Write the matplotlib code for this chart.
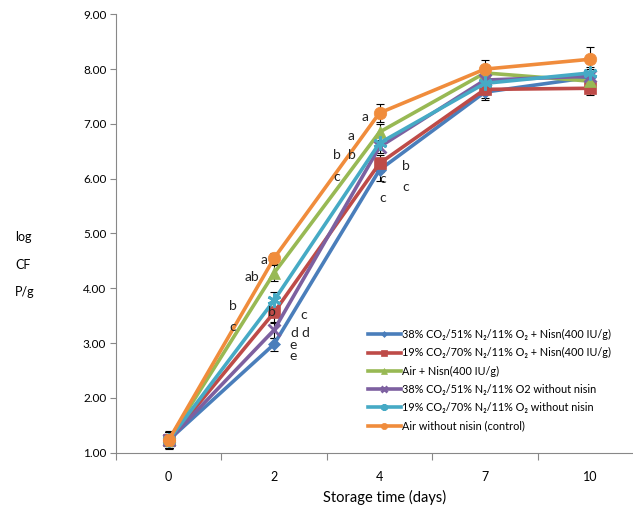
import matplotlib
matplotlib.use('Agg')
import matplotlib.pyplot as plt
import numpy as np

plt.rcParams['font.family'] = ['Lato', 'DejaVu Sans']

days = ['0', '2', '4', '7', '10']

series_names = [
    '38% CO\u2082/51% N\u2082/11% O\u2082 + Nisn(400 IU/g)',
    '19% CO\u2082/70% N\u2082/11% O\u2082 + Nisn(400 IU/g)',
    'Air + Nisn(400 IU/g)',
    '38% CO\u2082/51% N\u2082/11% O2 without nisin',
    '19% CO\u2082/70% N\u2082/11% O\u2082 without nisin',
    'Air without nisin (control)',
]

co2_38_nisin = [1.23, 2.98, 6.16, 7.58, 7.85]
co2_19_nisin = [1.23, 3.56, 6.28, 7.63, 7.65]
air_nisin = [1.23, 4.28, 6.85, 7.93, 7.78]
co2_38_ctrl = [1.23, 3.24, 6.58, 7.80, 7.87]
co2_19_ctrl = [1.23, 3.78, 6.65, 7.74, 7.93]
air_ctrl = [1.23, 4.55, 7.20, 8.00, 8.18]

err_co2_38_nisin = [0.15, 0.12, 0.20, 0.15, 0.15]
err_co2_19_nisin = [0.15, 0.20, 0.15, 0.15, 0.13]
err_air_nisin = [0.15, 0.15, 0.15, 0.12, 0.10]
err_co2_38_ctrl = [0.15, 0.15, 0.12, 0.10, 0.10]
err_co2_19_ctrl = [0.15, 0.15, 0.12, 0.12, 0.10]
err_air_ctrl = [0.17, 0.10, 0.16, 0.16, 0.22]

# significance letters (x in category units, y in log CFU)
letter_text = ['a', 'ab', 'b', 'c', 'b', 'c', 'd', 'd', 'e', 'e',
               'a', 'a', 'b', 'b', 'c', 'b', 'c', 'c', 'c']
letter_x = [0.90, 0.79, 0.61, 0.61, 0.98, 1.28, 1.19, 1.30, 1.18, 1.18,
            1.86, 1.73, 1.60, 1.74, 1.59, 2.25, 2.25, 2.03, 2.03]
letter_y = [4.51, 4.20, 3.68, 3.29, 3.57, 3.51, 3.19, 3.19, 2.97, 2.77,
            7.12, 6.78, 6.43, 6.43, 6.03, 6.23, 5.85, 5.99, 5.64]

values = [co2_38_nisin, co2_19_nisin, air_nisin, co2_38_ctrl, co2_19_ctrl, air_ctrl]
errors = [err_co2_38_nisin, err_co2_19_nisin, err_air_nisin,
          err_co2_38_ctrl, err_co2_19_ctrl, err_air_ctrl]
colors = ['#4A7EBB', '#BE4B48', '#98B954', '#7D60A0', '#46AAC5', '#F08C3C']
markers = ['D', 's', '^', 'x', (6, 2, 0), 'o']
msizes = [6, 8, 8, 8, 10, 9]

fig = plt.figure(figsize=(6.33, 5.08), dpi=100)
ax = fig.add_axes([116 / 633, 1 - 452.7 / 508, 527 / 633, (452.7 - 14.3) / 508])

x = np.arange(len(days))
for vals, errs, col, mk, ms, name in zip(values, errors, colors, markers, msizes, series_names):
    ax.errorbar(x, vals, yerr=errs, fmt='none', ecolor='black', elinewidth=0.8,
                capsize=3, capthick=0.8, zorder=2)
    ax.plot(x, vals, color=col, linewidth=2.6, marker=mk, markersize=ms,
            markeredgewidth=2 if mk in ('x', (6, 2, 0)) else 0.5,
            markeredgecolor=col, label=name, zorder=3)

for t, lx, ly in zip(letter_text, letter_x, letter_y):
    ax.text(lx, ly, t, fontsize=10, ha='center', va='center', color='#222222', zorder=4)

ax.set_xlim(-0.5, len(days) - 0.5)
ax.set_ylim(1.0, 9.0)
ax.set_yticks(np.arange(1, 10))
ax.set_yticklabels(['%.2f' % v for v in np.arange(1, 10)], fontsize=8.5)
ax.set_xticks(np.arange(-0.5, len(days)), minor=False)
ax.set_xticklabels([])
ax.set_xticks(x, minor=True)
ax.set_xticklabels(days, minor=True, fontsize=9)
ax.tick_params(axis='x', which='major', length=5, color='#888888')
ax.tick_params(axis='x', which='minor', length=0, pad=13)
ax.tick_params(axis='y', length=4, color='#888888', pad=3)

for side in ['top', 'right']:
    ax.spines[side].set_visible(False)
for side in ['left', 'bottom']:
    ax.spines[side].set_color('#888888')

fig.text(323 / 633, 1 - 497 / 508, 'Storage time (days)', fontsize=10.5, va='center', ha='left')
fig.text(15 / 633, 1 - 237 / 508, 'log', fontsize=9, va='center')
fig.text(15 / 633, 1 - 265 / 508, 'CF', fontsize=9, va='center')
fig.text(15 / 633, 1 - 292 / 508, 'P/g', fontsize=9, va='center')

ax.legend(loc='upper left', bbox_to_anchor=(368 / 633, 1 - 329 / 508),
          bbox_transform=fig.transFigure, frameon=False, fontsize=7.8,
          handlelength=3.0, handletextpad=0.15, labelspacing=0.67,
          borderaxespad=0, borderpad=0, markerscale=0.5)

plt.savefig('out.png', dpi=100)
plt.close()
